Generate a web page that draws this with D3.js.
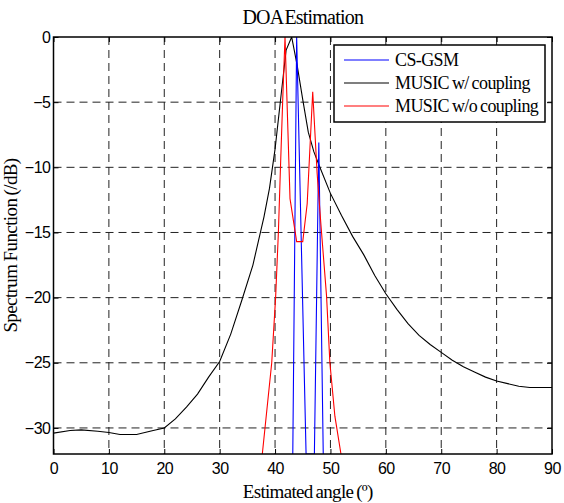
<!DOCTYPE html>
<html><head><meta charset="utf-8">
<script src="https://cdn.jsdelivr.net/npm/d3@7"></script>
<style>
body{margin:0;background:#fff;}
svg{display:block;}
.serif{font-family:"Liberation Serif","Times New Roman",serif;}
.sans{font-family:"Liberation Sans",Arial,sans-serif;}
</style></head>
<body>
<script>
// ---- data ----
const xTicks = [0,10,20,30,40,50,60,70,80,90];
const yTicks = [0,-5,-10,-15,-20,-25,-30];
const seriesNames = ["CS-GSM","MUSIC w/ coupling","MUSIC w/o coupling"];
const seriesColors = ["#0000ff","#000000","#ff0000"];

const csgsmAngle = [43.2,43.9,45.6,47.1,47.9,48.7];
const csgsmDb    = [-32,0,-32,-32,-8.1,-32];

const musicCAngle = [0,3,5,8,10,12,15,18,20,22,24,26,28,30,32,34,36,38,39,40,41,42,43,44,45,46,47,48,50,52,54,56,58,60,62,64,66,68,70,72,74,76,78,80,82,84,86,90];
const musicCDb    = [-30.4,-30.2,-30.15,-30.25,-30.35,-30.5,-30.5,-30.2,-30.0,-29.3,-28.4,-27.4,-26.1,-24.9,-22.8,-20.2,-17.5,-13.8,-11.6,-8.6,-4.8,-1.0,0,-2.2,-4.8,-7.3,-8.8,-9.9,-12.0,-13.7,-15.3,-16.7,-18.3,-19.7,-20.9,-22.0,-22.9,-23.6,-24.2,-24.8,-25.3,-25.7,-26.1,-26.4,-26.6,-26.8,-26.9,-26.9];

const musicNAngle = [37.7,39.4,40.1,40.6,41.0,41.4,41.8,42.7,43.9,45.0,45.8,46.8,47.6,48.3,49.3,49.9,50.8,51.9];
const musicNDb    = [-32,-25,-20,-15,-9.7,-4.6,0,-12.4,-15.7,-15.7,-12.8,-4.2,-10.5,-14.5,-19.9,-25,-29.1,-32];

// ---- layout ----
const W=564,H=503;
const L=53.5,R=552,T=37,B=454;
const svg=d3.select("body").append("svg").attr("width",W).attr("height",H);
const x=d3.scaleLinear().domain([0,90]).range([L,R]);
const y=d3.scaleLinear().domain([-32,0]).range([B,T]);

// grid
const g=svg.append("g");
g.selectAll(".vg").data(xTicks.slice(1,-1)).enter().append("line")
 .attr("x1",d=>x(d)).attr("x2",d=>x(d)).attr("y1",T).attr("y2",B)
 .attr("stroke","#222").attr("stroke-width",1).attr("stroke-dasharray","8,5");
g.selectAll(".hg").data(yTicks.slice(1)).enter().append("line")
 .attr("y1",d=>y(d)).attr("y2",d=>y(d)).attr("x1",L).attr("x2",R)
 .attr("stroke","#222").attr("stroke-width",1).attr("stroke-dasharray","8,5");

// clip
svg.append("clipPath").attr("id","clip").append("rect").attr("x",L).attr("y",T).attr("width",R-L).attr("height",B-T);
const line=d3.line().x(d=>x(d[0])).y(d=>y(d[1]));
const series=[
  d3.zip(csgsmAngle,csgsmDb),
  d3.zip(musicCAngle,musicCDb),
  d3.zip(musicNAngle,musicNDb)
];
const plotG=svg.append("g").attr("clip-path","url(#clip)");
[1,0,2].forEach(i=>{
  plotG.append("path").datum(series[i]).attr("d",line)
   .attr("fill","none").attr("stroke",seriesColors[i]).attr("stroke-width",1.1);
});

// axes
const tickLen=5;
const xb=svg.append("g").attr("transform",`translate(0,${B})`)
 .call(d3.axisBottom(x).tickValues(xTicks).tickSizeInner(-tickLen).tickSizeOuter(0).tickPadding(9));
const xt=svg.append("g").attr("transform",`translate(0,${T})`)
 .call(d3.axisTop(x).tickValues(xTicks).tickSizeInner(-tickLen).tickSizeOuter(0).tickFormat(""));
const yl=svg.append("g").attr("transform",`translate(${L},0)`)
 .call(d3.axisLeft(y).tickValues(yTicks).tickSizeInner(-tickLen).tickSizeOuter(0).tickPadding(3));
const yr=svg.append("g").attr("transform",`translate(${R},0)`)
 .call(d3.axisRight(y).tickValues(yTicks).tickSizeInner(-tickLen).tickSizeOuter(0).tickFormat(""));
[xb,xt,yl,yr].forEach(a=>{
  a.select(".domain").remove();
  a.selectAll("line").attr("stroke","#000").attr("stroke-width",1);
  a.selectAll("text").attr("class","sans").style("font-size","16px").style("letter-spacing","-0.5px").attr("fill","#000");
});
svg.append("rect").attr("x",L).attr("y",T).attr("width",R-L).attr("height",B-T)
 .attr("fill","none").attr("stroke","#000").attr("stroke-width",1.5);

// title & labels
svg.append("text").attr("class","serif").attr("x",(L+R)/2).attr("y",24).attr("text-anchor","middle")
 .style("font-size","20px").style("letter-spacing","-0.8px").style("word-spacing","-2px").text("DOA Estimation");
svg.append("text").attr("class","serif").attr("x",(L+R)/2+5).attr("y",498).attr("text-anchor","middle")
 .style("font-size","19px").style("letter-spacing","-0.7px").style("word-spacing","-1px").text("Estimated angle (º)");
svg.append("text").attr("class","serif").attr("transform",`translate(17,${(T+B)/2}) rotate(-90)`).attr("text-anchor","middle")
 .style("font-size","19px").style("letter-spacing","-0.6px").style("word-spacing","-1px").text("Spectrum Function (/dB)");

// legend
const lg=svg.append("g");
lg.append("rect").attr("x",334).attr("y",45).attr("width",211).attr("height",77)
 .attr("fill","#fff").attr("stroke","#000").attr("stroke-width",1.5);
seriesNames.forEach((n,i)=>{
  const yy=60+i*23;
  lg.append("line").attr("x1",344).attr("x2",389).attr("y1",yy).attr("y2",yy).attr("stroke",seriesColors[i]).attr("stroke-width",1.1);
  lg.append("text").attr("class","serif").attr("x",395).attr("y",yy+6).style("font-size","18px").style("letter-spacing","-0.6px").style("word-spacing","-1px").text(n);
});
</script>
</body></html>
